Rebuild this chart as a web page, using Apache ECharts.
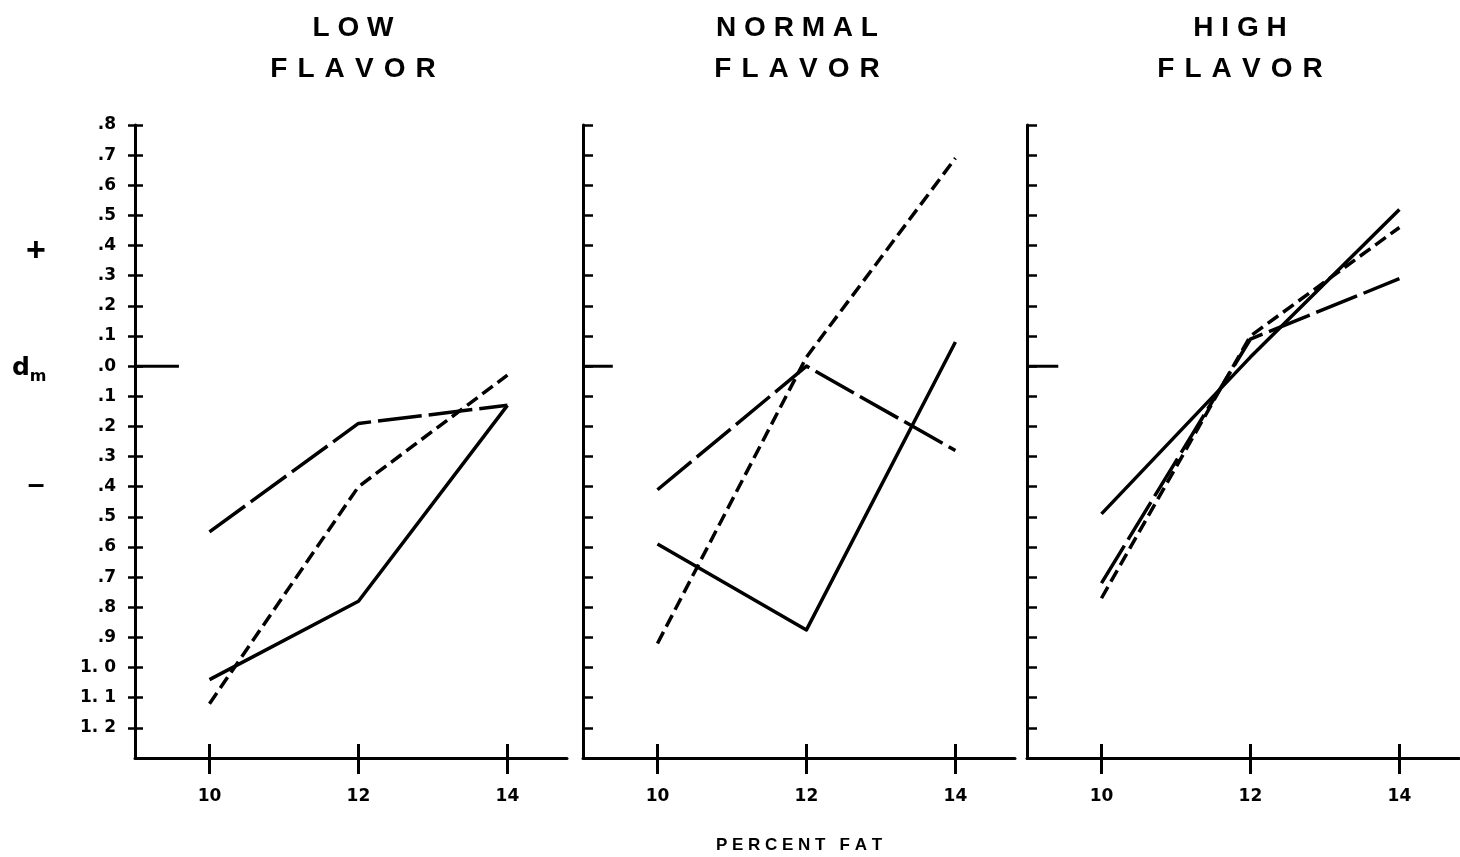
<!DOCTYPE html>
<html>
<head>
<meta charset="utf-8">
<title>Flavor × Percent Fat</title>
<script src="https://cdn.jsdelivr.net/npm/echarts@6/dist/echarts.min.js"></script>
<style>
  html, body { margin: 0; padding: 0; background: #fff; }
  #chart { width: 1460px; height: 857px; }
</style>
</head>
<body>
<div id="chart"></div>
<script>
// Percent fat levels (x) and d_m values for each flavor panel
const fatLevels = [10, 12, 14];
const xTickValues = [10, 12, 14];
const xTickLabels = ['10', '12', '14'];

const yTickValues = [0.8, 0.7, 0.6, 0.5, 0.4, 0.3, 0.2, 0.1, 0.0,
  -0.1, -0.2, -0.3, -0.4, -0.5, -0.6, -0.7, -0.8, -0.9, -1.0, -1.1, -1.2];
const yTickLabels = ['.8', '.7', '.6', '.5', '.4', '.3', '.2', '.1', '.0',
  '.1', '.2', '.3', '.4', '.5', '.6', '.7', '.8', '.9', '1. 0', '1. 1', '1. 2'];

const panelTitles = ['L O W', 'N O R M A L', 'H I G H'];
const panelSubtitle = 'F\u200A L\u200A A\u200A V\u200A O\u200A R';

const lowSolid = [-1.04, -0.78, -0.13];
const lowLongDash = [-0.55, -0.19, -0.13];
const lowShortDash = [-1.12, -0.40, -0.03];

const normalSolid = [-0.59, -0.875, 0.08];
const normalLongDash = [-0.41, 0.0, -0.28];
const normalShortDash = [-0.92, 0.03, 0.69];

const highSolid = [-0.49, 0.03, 0.52];
const highLongDash = [-0.72, 0.09, 0.29];
const highShortDash = [-0.77, 0.10, 0.46];

const panels = [
  { solid: lowSolid, longDash: lowLongDash, shortDash: lowShortDash },
  { solid: normalSolid, longDash: normalLongDash, shortDash: normalShortDash },
  { solid: highSolid, longDash: highLongDash, shortDash: highShortDash }
];

const FONT = '"Liberation Sans", Arial, sans-serif';
const LABEL_FONT = '"DejaVu Sans", "Liberation Sans", sans-serif';
const INK = '#000';

const gridLefts = [135, 583, 1027];
const grid = gridLefts.map(l => ({ left: l, top: 125, width: 432, height: 633 }));

function pair(vals) { return fatLevels.map((x, i) => [x, vals[i]]); }

function yLabel(v) {
  let best = 0, d = Infinity;
  yTickValues.forEach((t, i) => { const dd = Math.abs(t - v); if (dd < d) { d = dd; best = i; } });
  return yTickLabels[best];
}
function xLabel(v) {
  const i = xTickValues.indexOf(Math.round(v));
  return i >= 0 ? xTickLabels[i] : '';
}

const xAxis = [];
grid.forEach((g, gi) => {
  // outward half of the crossing ticks, plus axis line and labels
  xAxis.push({
    gridIndex: gi, type: 'value', min: 9, max: 14.8, position: 'bottom',
    axisLine: { show: true, onZero: false, lineStyle: { color: INK, width: 3 } },
    axisTick: { show: true, inside: false, length: 16, customValues: xTickValues,
      lineStyle: { color: INK, width: 3 } },
    axisLabel: { show: true, customValues: xTickValues, margin: 30, color: INK,
      fontSize: 17, fontWeight: 'bold', fontFamily: LABEL_FONT, formatter: xLabel },
    splitLine: { show: false }
  });
  // inward half of the crossing ticks
  xAxis.push({
    gridIndex: gi, type: 'value', min: 9, max: 14.8, position: 'bottom',
    axisLine: { show: false, onZero: false },
    axisTick: { show: true, inside: true, length: 14, customValues: xTickValues,
      lineStyle: { color: INK, width: 3 } },
    axisLabel: { show: false },
    splitLine: { show: false }
  });
});

const yAxis = [
  {
    gridIndex: 0, type: 'value', min: -1.3, max: 0.8, position: 'left',
    axisLine: { show: true, onZero: false, lineStyle: { color: INK, width: 3 } },
    axisTick: { show: true, inside: false, length: 7, customValues: yTickValues,
      lineStyle: { color: INK, width: 2.5 } },
    axisLabel: { show: true, customValues: yTickValues, margin: 19, color: INK,
      fontSize: 17, fontWeight: 'bold', fontFamily: LABEL_FONT, formatter: yLabel },
    splitLine: { show: false }
  },
  {
    gridIndex: 0, type: 'value', min: -1.3, max: 0.8, position: 'left',
    axisLine: { show: false, onZero: false },
    axisTick: { show: true, inside: true, length: 8, customValues: yTickValues,
      lineStyle: { color: INK, width: 2.5 } },
    axisLabel: { show: false },
    splitLine: { show: false }
  }
];
[1, 2].forEach(gi => {
  yAxis.push({
    gridIndex: gi, type: 'value', min: -1.3, max: 0.8, position: 'left',
    axisLine: { show: true, onZero: false, lineStyle: { color: INK, width: 3 } },
    axisTick: { show: true, inside: true, length: 10, customValues: yTickValues,
      lineStyle: { color: INK, width: 2.5 } },
    axisLabel: { show: false },
    splitLine: { show: false }
  });
});

const panelYAxis = [0, 2, 3];
const zeroStubEnd = [9.59, 9.4, 9.42];
const dashStyles = {
  solid: 'solid',
  longDash: [44, 7],
  shortDash: [13, 6]
};

const series = [];
panels.forEach((p, pi) => {
  ['solid', 'longDash', 'shortDash'].forEach(k => {
    series.push({
      type: 'line', xAxisIndex: pi * 2, yAxisIndex: panelYAxis[pi],
      data: pair(p[k]), symbol: 'none', silent: true, animation: false,
      lineStyle: { color: INK, width: 3.5, type: dashStyles[k], join: 'round', cap: 'butt' }
    });
  });
  // zero reference stub at the left of each panel
  series.push({
    type: 'line', xAxisIndex: pi * 2, yAxisIndex: panelYAxis[pi],
    data: [[9, 0], [zeroStubEnd[pi], 0]], symbol: 'none', silent: true, animation: false,
    lineStyle: { color: INK, width: 3 }
  });
});

const titleCenters = [353, 797, 1240];
const graphic = [];
titleCenters.forEach((cx, i) => {
  graphic.push({ type: 'text', x: cx, y: 28,
    style: { text: panelTitles[i], fill: INK, font: 'bold 28px ' + FONT,
      textAlign: 'center', textVerticalAlign: 'middle' } });
  graphic.push({ type: 'text', x: cx, y: 69,
    style: { text: panelSubtitle, fill: INK, font: 'bold 28px ' + FONT,
      textAlign: 'center', textVerticalAlign: 'middle' } });
});
graphic.push(
  { type: 'text', x: 799, y: 845,
    style: { text: 'P E R C E N T   F A T', fill: INK, font: 'bold 17px ' + FONT,
      textAlign: 'center', textVerticalAlign: 'middle' } },
  { type: 'text', x: 36, y: 252,
    style: { text: '+', fill: INK, font: 'bold 34px ' + FONT,
      textAlign: 'center', textVerticalAlign: 'middle' } },
  { type: 'text', x: 21, y: 368,
    style: { text: 'd', fill: INK, font: 'bold 25px ' + LABEL_FONT,
      textAlign: 'center', textVerticalAlign: 'middle' } },
  { type: 'text', x: 38, y: 377,
    style: { text: 'm', fill: INK, font: 'bold 16px ' + LABEL_FONT,
      textAlign: 'center', textVerticalAlign: 'middle' } },
  { type: 'text', x: 36, y: 486,
    style: { text: '–', fill: INK, font: 'bold 30px ' + FONT,
      textAlign: 'center', textVerticalAlign: 'middle' } }
);

const chart = echarts.init(document.getElementById('chart'), null, { renderer: 'canvas' });
chart.setOption({
  backgroundColor: '#fff',
  animation: false,
  grid, xAxis, yAxis, series, graphic
});
</script>
</body>
</html>
